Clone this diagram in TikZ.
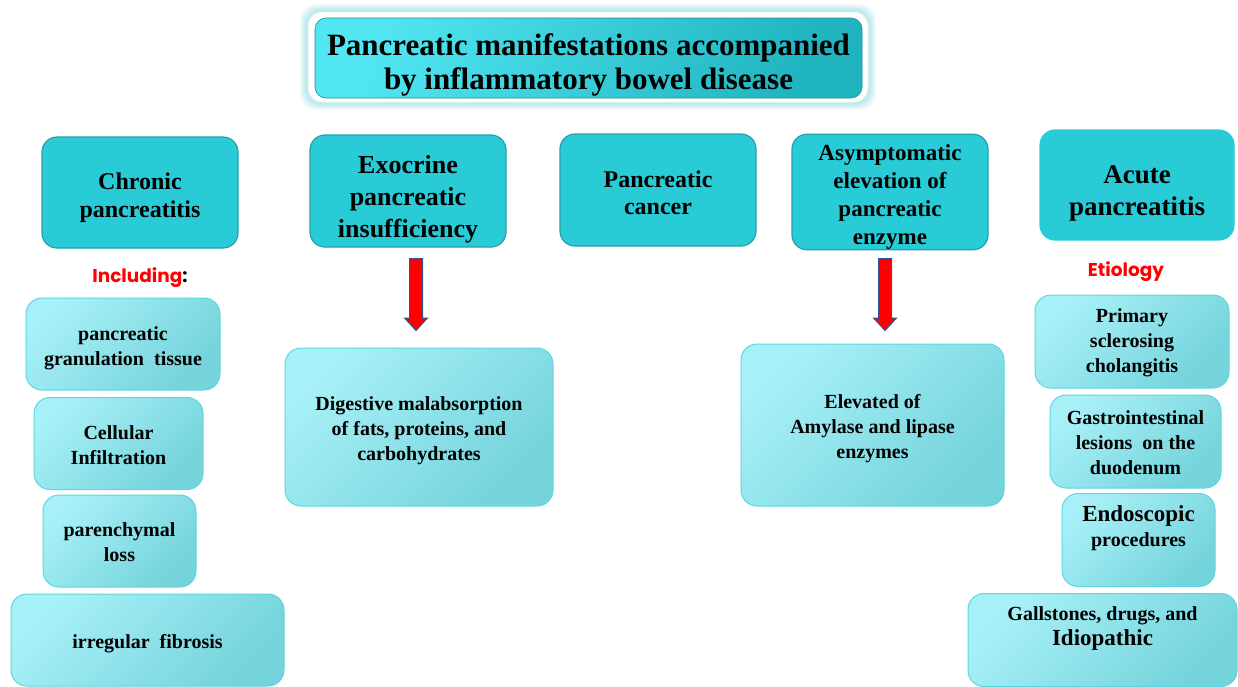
\documentclass[tikz,border=0pt]{standalone}
\usepackage{fontspec}
\setmainfont{Liberation Serif}
\newfontfamily\headfont{Poppins}
\usetikzlibrary{shapes.arrows}

\definecolor{tealbox}{RGB}{41,203,215}
\definecolor{tealedge}{RGB}{36,160,170}
\definecolor{palel}{RGB}{168,240,247}
\definecolor{paler}{RGB}{116,211,219}
\definecolor{paleedge}{RGB}{92,214,226}
\definecolor{titlel}{RGB}{82,230,242}
\definecolor{titler}{RGB}{32,180,192}
\definecolor{glow}{RGB}{90,200,210}
\definecolor{arrowedge}{RGB}{47,85,151}

% struts that move the text inside a box
\newcommand{\lifttext}[1]{\rule{0pt}{#1pt}}
\newcommand{\droptext}[1]{\rule[-#1pt]{0pt}{0pt}}

\tikzstyle{main}=[draw=tealedge,fill=tealbox,rounded corners=15pt,line width=1.2pt,align=center,inner sep=0pt,font=\bfseries\fontsize{24}{28}\selectfont]
\tikzstyle{sub}=[draw=paleedge,line width=1pt,top color=palel,bottom color=paler,shading angle=45,rounded corners=16pt,align=center,inner sep=0pt,font=\bfseries\fontsize{20}{25}\selectfont]
\tikzstyle{downarrow}=[single arrow,shape border rotate=270,draw=arrowedge,fill=red,line width=1pt,minimum height=72pt,minimum width=22pt,single arrow head extend=5pt,single arrow tip angle=85,inner sep=6pt]
\tikzstyle{heading}=[font=\headfont\bfseries\fontsize{18.5}{20}\selectfont,text=red]

\begin{document}
\begin{tikzpicture}[x=1pt,y=-1pt]
    \useasboundingbox (0,0) rectangle (1238,686);
    %Title
    \foreach \g in {1,...,8}
    \fill[glow,opacity=0.07,rounded corners=16pt] ({308-\g},{12-\g}) rectangle ({868+\g},{102+\g});
    \node[draw=white!85!glow,fill=white,rounded corners=14pt,minimum width=560pt,minimum height=90pt,line width=1pt] (frame) at (588,57) {};
    \node[draw=titler!80!black,top color=titlel,bottom color=titler,shading angle=70,rounded corners=11pt,minimum width=547pt,minimum height=80pt,line width=0.6pt,align=center,inner sep=0pt,font=\bfseries\fontsize{31}{34}\selectfont] (title) at (588.5,58) {\lifttext{34.9}Pancreatic manifestations accompanied\\by inflammatory bowel disease};
    %Main nodes
    \node[main,minimum width=196pt,minimum height=111pt] (chronic) at (140,192.5) {\lifttext{26.2}Chronic\\pancreatitis};
    \node[main,minimum width=196pt,minimum height=112pt,font=\bfseries\fontsize{26}{32}\selectfont] (exocrine) at (408,191) {\lifttext{33.6}Exocrine\\pancreatic\\insufficiency};
    \node[main,minimum width=196pt,minimum height=112pt,font=\bfseries\fontsize{24}{27}\selectfont] (cancer) at (658,190) {\lifttext{22.3}Pancreatic\\cancer};
    \node[main,minimum width=196pt,minimum height=112pt,font=\bfseries\fontsize{23}{28}\selectfont] (asymptomatic) at (890,192) {\lifttext{26.6}Asymptomatic\\elevation of\\pancreatic\\enzyme};
    \node[main,draw=tealbox,minimum width=194pt,minimum height=110pt,font=\bfseries\fontsize{27}{32}\selectfont] (acute) at (1137,185) {\lifttext{34.2}Acute\\pancreatitis};
    %Headings
    \node[heading] (including) at (140,277.5) {Including\textcolor{black}{:}};
    \node[heading] (etiology) at (1126,272) {Etiology};
    %Chronic pancreatitis findings
    \foreach \pos/\name/\bw/\txt in {{(123,344)/gran/194/{\lifttext{22.5}pancreatic\\granulation\enspace tissue}},
                                 {(118.5,443.5)/cell/169/{\lifttext{17.6}Cellular\\Infiltration}},
                                 {(119.5,541)/paren/153/{\lifttext{16.6}parenchymal\\loss}},
                                 {(147.5,640)/fibro/273/{\lifttext{21.5}irregular\enspace fibrosis}}}
    \node[sub,minimum width=\bw pt,minimum height=92pt] (\name) at \pos {\txt};
    %Etiology nodes
    \foreach \pos/\name/\bw/\txt in {{(1132,341.5)/psc/194/{\lifttext{15.6}Primary\\sclerosing\\cholangitis}},
                                 {(1135.5,441.5)/lesions/171/{\lifttext{15.6}Gastrointestinal\\lesions\enspace on the\\duodenum}},
                                 {(1138.5,540)/endo/153/{{\fontsize{23}{26}\selectfont Endoscopic}\\procedures\droptext{28.7}}},
                                 {(1102.5,640)/gall/269/{Gallstones, drugs, and\\{\fontsize{23}{26}\selectfont Idiopathic}\droptext{27.4}}}}
    \node[sub,minimum width=\bw pt,minimum height=93pt] (\name) at \pos {\txt};
    %Consequences
    \node[sub,minimum width=268pt,minimum height=158pt] (digestive) at (419,427) {\lifttext{21.5}Digestive malabsorption\\of fats, proteins, and\\carbohydrates};
    \node[sub,minimum width=263pt,minimum height=162pt] (elevated) at (872.5,425) {\lifttext{21.5}Elevated of\\Amylase and lipase\\enzymes};
    %Arrows
    \node[downarrow] (arrowexo) at (416,291) {};
    \node[downarrow] (arrowasym) at (885,291) {};
\end{tikzpicture}
\end{document}
